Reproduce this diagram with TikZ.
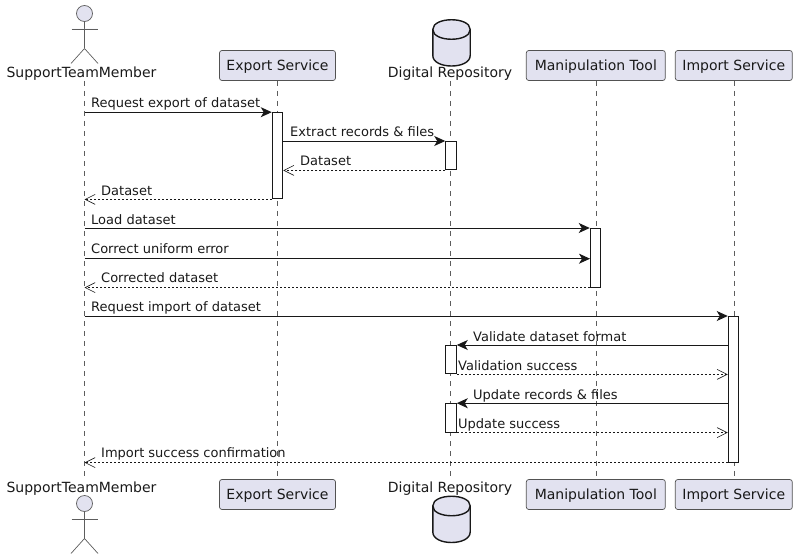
\documentclass[tikz,border=0pt]{standalone}
\usepackage{fontspec}
\setmainfont{DejaVu Sans}
\usetikzlibrary{arrows.meta,calc}
\definecolor{pfill}{HTML}{E2E2F0}
\definecolor{pline}{HTML}{181818}
\tikzset{
  x=1pt,y=-1pt,
  partbox/.style={draw=pline!75,line width=0.7pt,fill=pfill,rounded corners=2.5pt,minimum height=30pt,inner sep=0pt,text height=11pt,text depth=1pt,font=\fontsize{14}{16}\selectfont,text=black!90},
  extlabel/.style={inner sep=0pt,anchor=base,text height=13pt,text depth=2pt,font=\fontsize{14}{16}\selectfont,text=black!90},
  lifeline/.style={draw=pline!70,line width=0.6pt,dash pattern=on 5pt off 5pt},
  actbox/.style={draw=pline,line width=1pt,fill=white,minimum width=10.5pt,inner sep=0pt},
  msglabel/.style={inner sep=0pt,anchor=base west,font=\fontsize{13}{15}\selectfont,text=black!90},
  syncmsg/.style={draw=pline,line width=1pt,-{Stealth[length=11pt,width=10pt,inset=3pt,fill=pline]}},
  retmsg/.style={draw=pline,line width=0.8pt,dash pattern=on 2pt off 2pt,-{Straight Barb[length=10pt,width=10pt,line width=0.6pt]}},
  actorline/.style={draw=pline!70,line width=0.7pt,fill=pfill},
  dbshape/.style={draw=pline,line width=1.4pt,fill=pfill},
}
\newcommand{\stickman}[2]{%
  \draw[actorline] (#1,#2) circle[radius=8pt];
  \draw[actorline] (#1,#2+8) -- (#1,#2+35);
  \draw[actorline] (#1-13,#2+15.5) -- (#1+13,#2+15.5);
  \draw[actorline,fill=none] (#1-13.5,#2+50) -- (#1,#2+35) -- (#1+13.5,#2+50);
}
\newcommand{\dbdrum}[2]{%
  \draw[dbshape] (#1-18.7,#2+10) .. controls (#1-18.7,#2-3) and (#1+18.7,#2-3) .. (#1+18.7,#2+10)
    -- (#1+18.7,#2+36) .. controls (#1+18.7,#2+50) and (#1-18.7,#2+50) .. (#1-18.7,#2+36) -- cycle;
  \draw[dbshape,fill=none] (#1-18.7,#2+10) .. controls (#1-18.7,#2+23) and (#1+18.7,#2+23) .. (#1+18.7,#2+10);
}
\begin{document}
\begin{tikzpicture}
\useasboundingbox (0,0) rectangle (797,559);
% head and foot shapes
\stickman{84.5}{13.5}
\stickman{84.5}{503.5}
\dbdrum{451.5}{19.5}
\dbdrum{451.5}{496}
\node[extlabel] (stmT) at (81.5,78) {SupportTeamMember};
\node[extlabel] (stmB) at (81.5,492) {SupportTeamMember};
\node[extlabel] (repT) at (450,78) {Digital Repository};
\node[extlabel] (repB) at (450,492) {Digital Repository};
\node[partbox,minimum width=116pt] (expT) at (277.5,65.5) {Export Service};
\node[partbox,minimum width=116pt] (expB) at (277.5,494.5) {Export Service};
\node[partbox,minimum width=139pt] (manT) at (595.8,65.5) {Manipulation Tool};
\node[partbox,minimum width=139pt] (manB) at (595.8,494.5) {Manipulation Tool};
\node[partbox,minimum width=117pt] (impT) at (733.8,65.5) {Import Service};
\node[partbox,minimum width=117pt] (impB) at (733.8,494.5) {Import Service};
% lifelines
\coordinate (lifeA) at (84.5,81);
\coordinate (lifeAb) at (84.5,479);
\coordinate (lifeR) at (450.5,81);
\coordinate (lifeRb) at (450.5,479);
\draw[lifeline] (lifeA) -- (lifeAb);
\draw[lifeline] (lifeR) -- (lifeRb);
\draw[lifeline] (expT.south) -- (expB.north);
\draw[lifeline] (manT.south) -- (manB.north);
\draw[lifeline] (impT.south) -- (impB.north);
% activations
\node[actbox,minimum height=86.2pt]  (a1) at (277.5,155.8) {};
\node[actbox,minimum height=28.4pt]  (a2) at (451,155.7) {};
\node[actbox,minimum height=58.6pt]  (a3) at (595.5,257.8) {};
\node[actbox,minimum height=145.6pt] (a4) at (733.5,389.3) {};
\node[actbox,minimum height=28.4pt]  (a5) at (451,359.7) {};
\node[actbox,minimum height=28.4pt]  (a6) at (451,417.9) {};
% messages
\coordinate (m7) at (84.5,258.7);
\coordinate (m7e) at (590,258.7);
\draw[syncmsg] (lifeA |- a1.north west) -- (a1.north west);
\node[msglabel] (t1) at (91,107.7) {Request export of dataset};
\draw[syncmsg] (a1.east |- a2.north west) -- (a2.north west);
\node[msglabel] (t2) at (290,136.7) {Extract records \& files};
\draw[retmsg] (a2.south west) -- (a1.east |- a2.south west);
\node[msglabel] (t3) at (300,165.8) {Dataset};
\draw[retmsg] (a1.south west) -- (lifeA |- a1.south west);
\node[msglabel] (t4) at (101,195.1) {Dataset};
\draw[syncmsg] (lifeA |- a3.north west) -- (a3.north west);
\node[msglabel] (t5) at (91,224.1) {Load dataset};
\draw[syncmsg] (m7) -- (m7e);
\node[msglabel] (t6) at (91,253.4) {Correct uniform error};
\draw[retmsg] (a3.south west) -- (lifeA |- a3.south west);
\node[msglabel] (t7) at (101,282.9) {Corrected dataset};
\draw[syncmsg] (lifeA |- a4.north west) -- (a4.north west);
\node[msglabel] (t8) at (91,311.9) {Request import of dataset};
\draw[syncmsg] (a4.west |- a5.north east) -- (a5.north east);
\node[msglabel] (t9) at (473,341) {Validate dataset format};
\draw[retmsg] (a5.south east) -- (a4.west |- a5.south east);
\node[msglabel] (t10) at (458,370) {Validation success};
\draw[syncmsg] (a4.west |- a6.north east) -- (a6.north east);
\node[msglabel] (t11) at (473,399) {Update records \& files};
\draw[retmsg] (a6.south east) -- (a4.west |- a6.south east);
\node[msglabel] (t12) at (458,428) {Update success};
\draw[retmsg] (a4.south west) -- (lifeA |- a4.south west);
\node[msglabel] (t13) at (101,457.4) {Import success confirmation};
\end{tikzpicture}
\end{document}
